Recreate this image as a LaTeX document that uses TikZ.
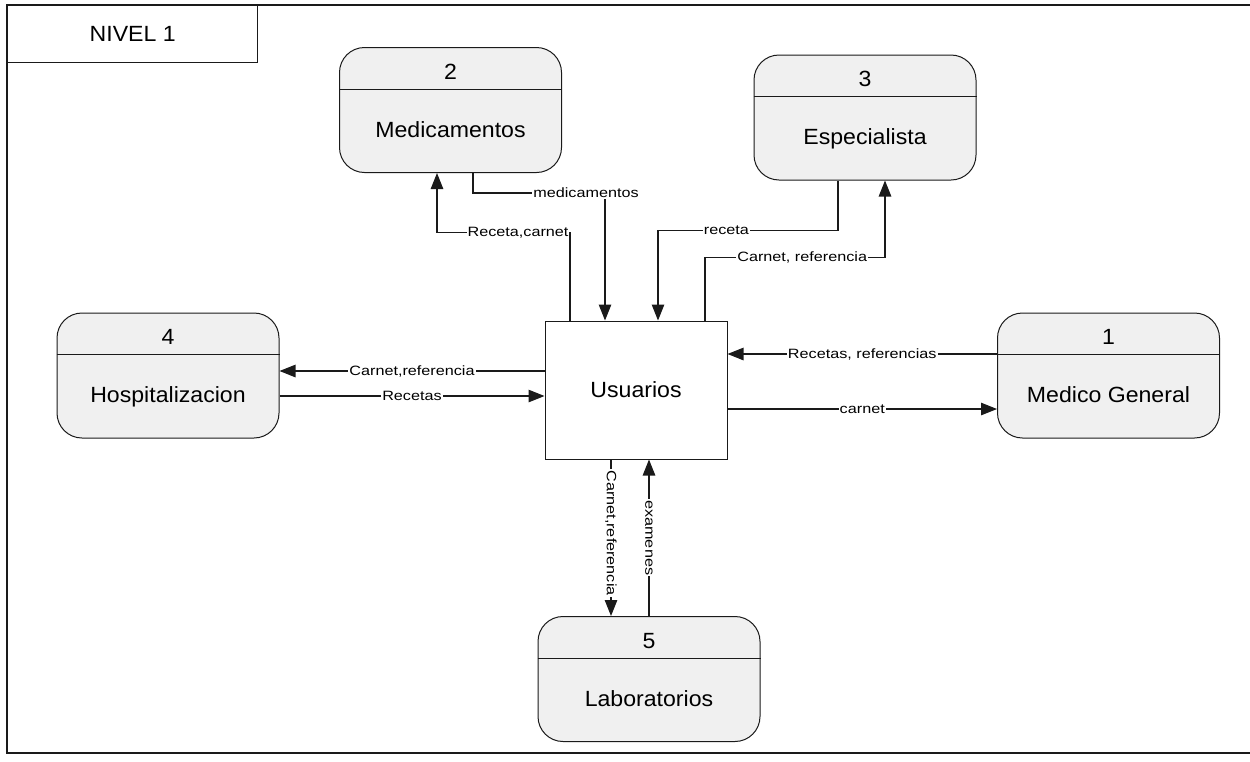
\documentclass[tikz,border=0pt]{standalone}
\usepackage{fontspec}
\setmainfont{Liberation Sans}[FakeStretch=1.05]
\newfontfamily\lblfont{Liberation Sans}[FakeStretch=1.2]
\usetikzlibrary{arrows.meta}
\definecolor{procfill}{HTML}{F0F0F0}
\definecolor{ink}{HTML}{1A1A1A}

% process box: name, centre x, centre y, number, title
\newcommand\procbox[5]{%
  \node[proc] (#1) at (#2,#3) {};
  \draw[divider] ([yshift=-42pt]#1.north west) -- ([yshift=-42pt]#1.north east);
  \node[big, anchor=base] (#1-num) at ([yshift=-32pt]#1.north) {#4};
  \node[big, anchor=base] (#1-name) at ([yshift=-90pt]#1.north) {#5};
}

\begin{document}
\begin{tikzpicture}[x=1pt,y=-1pt,
  big/.style={font=\fontsize{22}{26}\selectfont, inner sep=0pt},
  proc/.style={draw=ink, line width=1pt, fill=procfill, rounded corners=25pt,
               minimum width=222pt, minimum height=125pt, inner sep=0pt},
  divider/.style={draw=ink, line width=1pt},
  ent/.style={draw=ink, line width=1pt, fill=white, inner sep=0pt,
              minimum width=182pt, minimum height=138pt,
              font=\fontsize{22}{26}\selectfont},
  flow/.style={draw=ink, line width=1.1pt, -{Triangle[length=16pt,width=12.5pt]}},
  lbl/.style={font=\lblfont\fontsize{13.5}{15}\selectfont, fill=white, inner sep=1pt},
  frame/.style={draw=ink, line width=1.4pt}
]
\useasboundingbox (0,0) rectangle (1250,761);

% outer frame and level tab
\draw[frame] (1250,5) -- (7,5) -- (7,753) -- (1250,753);
\node[draw=ink, line width=1.4pt, anchor=north west, minimum width=250pt,
      minimum height=57pt, inner sep=0pt, font=\fontsize{22}{26}\selectfont]
      (lvl) at (7,5) {NIVEL 1};

% processes
\procbox{med}{450.5}{110}{2}{Medicamentos}
\procbox{esp}{865}{117.5}{3}{Especialista}
\procbox{hosp}{168}{375.5}{4}{Hospitalizacion}
\procbox{gen}{1108.5}{375.5}{1}{Medico General}
\procbox{lab}{649}{679}{5}{Laboratorios}

% external entity
\node[ent] (usr) at (636,390) {Usuarios};

% ports on the entity
\coordinate (u-n1) at ([xshift=-66pt]usr.north);
\coordinate (u-n2) at ([xshift=-31pt]usr.north);
\coordinate (u-n3) at ([xshift=22pt]usr.north);
\coordinate (u-n4) at ([xshift=69pt]usr.north);
\coordinate (u-w1) at ([yshift=19pt]usr.west);
\coordinate (u-w2) at ([yshift=-6pt]usr.west);
\coordinate (u-e1) at ([yshift=36pt]usr.east);
\coordinate (u-e2) at ([yshift=-19pt]usr.east);
\coordinate (u-s1) at ([xshift=-25pt]usr.south);
\coordinate (u-s2) at ([xshift=13pt]usr.south);

% Medicamentos
\draw[flow] ([xshift=22.5pt]med.south) -- ++(0,20)
  -| node[lbl, pos=0.5, xshift=-19pt] {medicamentos} (u-n2);
\draw[flow] (u-n1) -- ++(0,-88) node[lbl, anchor=east] {Receta,carnet}
  -| ([xshift=-13.5pt]med.south);

% Especialista
\draw[flow] ([xshift=-27pt]esp.south) -- ++(0,50)
  -| node[lbl, pos=0.31] {receta} (u-n3);
\draw[flow] (u-n4) -- ++(0,-63)
  -| node[lbl, pos=0.27] {Carnet, referencia} ([xshift=20pt]esp.south);

% Hospitalizacion
\draw[flow] (u-w1) -- node[lbl] {Carnet,referencia} (u-w1 -| hosp.east);
\draw[flow] (u-w2 -| hosp.east) -- node[lbl] {Recetas} (u-w2);

% Medico General
\draw[flow] (u-e1 -| gen.west) -- node[lbl] {Recetas, referencias} (u-e1);
\draw[flow] (u-e2) -- node[lbl] {carnet} (u-e2 -| gen.west);

% Laboratorios
\draw[flow] (u-s1) -- node[lbl, rotate=-90, pos=0.47] {Carnet,referencia} (u-s1 |- lab.north);
\draw[flow] (u-s2 |- lab.north) -- node[lbl, rotate=-90] {examenes} (u-s2);
\end{tikzpicture}
\end{document}
